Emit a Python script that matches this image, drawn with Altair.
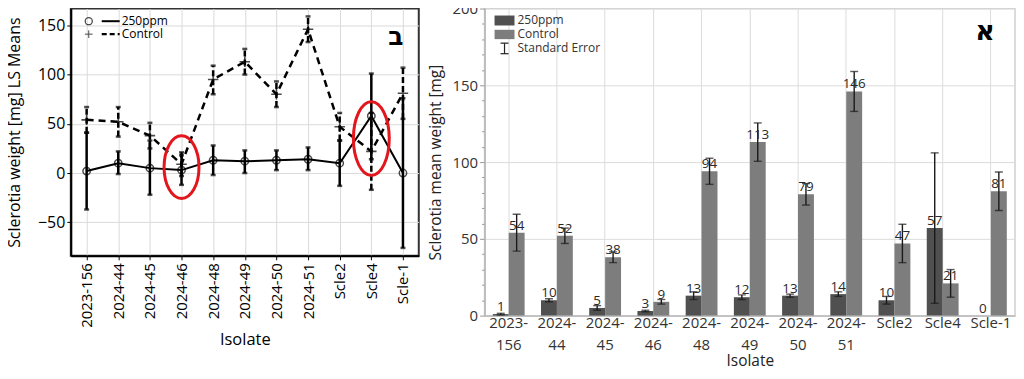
import altair as alt
import pandas as pd

# ---------------- data ----------------
isolates = ["2023-156", "2024-44", "2024-45", "2024-46", "2024-48", "2024-49",
            "2024-50", "2024-51", "Scle2", "Scle4", "Scle-1"]

# Left panel: LS means with confidence bars
ls_250 = [2, 10, 5, 3, 13, 12, 13, 14, 10, 58, 0]
ls_250_lo = [-37, -1, -22, -12, -2, 0, 3, 3, -13, 14, -76]
ls_250_hi = [41, 22, 33, 18, 28, 23, 23, 26, 33, 101, 76]
ls_ctl = [54, 52, 38, 9, 95, 113, 80, 146, 47, 22, 81]
ls_ctl_lo = [41, 37, 25, -3, 80, 100, 67, 133, 33, -17, 55]
ls_ctl_hi = [67, 67, 51, 21, 109, 126, 93, 159, 61, 61, 107]

# Right panel: means and standard errors
mean_250 = [1, 10, 5, 3, 13, 12, 13, 14, 10, 57, 0]
se_250 = [0.5, 1, 1.5, 0.5, 2.5, 1.5, 1, 1.5, 2.5, 49, 0]
mean_ctl = [54, 52, 38, 9, 94, 113, 79, 146, 47, 21, 81]
se_ctl = [12, 5, 3.5, 1.5, 8.5, 12.5, 7, 13, 12.5, 9, 12.5]

treatments = ["250ppm", "Control"]
bar_colors = ["#505050", "#7d7d7d"]

# red highlight ellipses (left panel)
highlight_isolates = ["2024-46", "Scle4"]
highlight_centers = [6, 35]

left_letter = "ב"
right_letter = "א"
se_label = "Standard Error"

FONT = "Open Sans"

# ---------------- left panel ----------------
df250 = pd.DataFrame({"isolate": isolates, "value": ls_250, "lo": ls_250_lo, "hi": ls_250_hi})
dfctl = pd.DataFrame({"isolate": isolates, "value": ls_ctl, "lo": ls_ctl_lo, "hi": ls_ctl_hi})
one = pd.DataFrame({"_": [0]})

xL = alt.X("isolate:N", sort=isolates,
           scale=alt.Scale(type="point", padding=0.5),
           axis=alt.Axis(title="Isolate", labelAngle=-90, labelFontSize=15, labelColor="#000",
                         titleFontSize=16.5, titleFontWeight="normal", titleColor="#000",
                         titlePadding=4, domainColor="#000", domainWidth=2, tickColor="#000",
                         tickSize=4, grid=True, gridColor="#dadada", labelPadding=3))
ySc = alt.Scale(domain=[-84, 167], nice=False, zero=False)
yAx = alt.Axis(title="Sclerotia weight [mg] LS Means", values=[-50, 0, 50, 100, 150],
               labelFontSize=16, labelColor="#000", titleFontSize=16, titleFontWeight="normal",
               titleColor="#000", domainColor="#000", domainWidth=2, tickColor="#000", tickSize=4,
               grid=True, gridColor="#dadada", titlePadding=15)

def yL(field):
    return alt.Y(field, type="quantitative", scale=ySc, axis=yAx)

base250 = alt.Chart(df250)
basectl = alt.Chart(dfctl)

line250 = base250.mark_line(color="#000", strokeWidth=2).encode(x=xL, y=yL("value"))
linectl = basectl.mark_line(color="#000", strokeWidth=2.5, strokeDash=[7, 5]).encode(x=xL, y=yL("value"))

err250 = base250.mark_rule(color="#000", strokeWidth=2.5).encode(x=xL, y=yL("lo"), y2="hi")
errctl = basectl.mark_rule(color="#000", strokeWidth=2.5, strokeDash=[6, 3]).encode(x=xL, y=yL("lo"), y2="hi")
cap250a = base250.mark_tick(color="#000", size=5, thickness=2.5).encode(x=xL, y=yL("lo"))
cap250b = base250.mark_tick(color="#000", size=5, thickness=2.5).encode(x=xL, y=yL("hi"))
capctla = basectl.mark_tick(color="#000", size=5, thickness=2.5).encode(x=xL, y=yL("lo"))
capctlb = basectl.mark_tick(color="#000", size=5, thickness=2.5).encode(x=xL, y=yL("hi"))

pts250 = base250.mark_point(shape="circle", filled=False, size=55, color="#000",
                            strokeWidth=1.5).encode(x=xL, y=yL("value"))
plus_path = "M-1,0L1,0M0,-1L0,1"
ptsctl = basectl.mark_point(shape=plus_path, size=110, color="#000",
                            strokeWidth=1.6).encode(x=xL, y=yL("value"))

hl = pd.DataFrame({"isolate": highlight_isolates, "center": highlight_centers})
def ellipse_path(a):
    return f"M0,-1 A{a},1 0 1,1 0,1 A{a},1 0 1,1 0,-1 Z"
ell1 = alt.Chart(hl).transform_filter(alt.datum.isolate == highlight_isolates[0]).mark_point(
    shape=ellipse_path(0.556), size=3969, color="#e3161d", strokeWidth=3, filled=False, opacity=1
).encode(x=xL, y=yL("center"))
ell2 = alt.Chart(hl).transform_filter(alt.datum.isolate == highlight_isolates[1]).mark_point(
    shape=ellipse_path(0.486), size=5476, color="#e3161d", strokeWidth=3, filled=False, opacity=1
).encode(x=xL, y=yL("center"))

# manual legend (left)
lg_c = alt.Chart(one).mark_point(shape="circle", filled=False, size=50, color="#000", strokeWidth=1.3).encode(
    x=alt.value(18), y=alt.value(12.7))
lg_l1 = alt.Chart(one).mark_rule(color="#000", strokeWidth=2).encode(
    x=alt.value(31), x2=alt.value(49), y=alt.value(12.7))
lg_t1 = alt.Chart(one).mark_text(text=treatments[0], align="left", baseline="middle", fontSize=12,
                                 font=FONT, color="#000").encode(x=alt.value(51), y=alt.value(12.7))
lg_p = alt.Chart(one).mark_point(shape=plus_path, size=60, color="#000", strokeWidth=1).encode(
    x=alt.value(18), y=alt.value(25.7))
lg_l2 = alt.Chart(one).mark_rule(color="#000", strokeWidth=2.2, strokeDash=[5, 3]).encode(
    x=alt.value(31), x2=alt.value(49), y=alt.value(25.7))
lg_t2 = alt.Chart(one).mark_text(text=treatments[1], align="left", baseline="middle", fontSize=12,
                                 font=FONT, color="#000").encode(x=alt.value(51), y=alt.value(25.7))
let_b = alt.Chart(one).mark_text(text=left_letter, font="DejaVu Sans", fontSize=25, fontWeight="bold",
                                 color="#000", align="center", baseline="middle").encode(
    x=alt.value(326), y=alt.value(29))

left = alt.layer(
    err250, errctl, cap250a, cap250b, capctla, capctlb,
    linectl, line250, ptsctl, pts250, ell1, ell2,
    lg_c, lg_l1, lg_t1, lg_p, lg_l2, lg_t2, let_b
).properties(width=349, height=248,
             view=alt.ViewBackground(stroke="#333", strokeWidth=2))

# ---------------- right panel ----------------
rdf = pd.DataFrame({
    "isolate": isolates * 2,
    "treatment": [treatments[0]] * len(isolates) + [treatments[1]] * len(isolates),
    "mean": mean_250 + mean_ctl,
    "se": se_250 + se_ctl,
})

label_expr = ("indexof(datum.label, '20') === 0 ? "
              "[slice(datum.label, 0, 5), slice(datum.label, 5)] : datum.label")
xR = alt.X("isolate:N", sort=isolates,
           scale=alt.Scale(paddingInner=0.34, paddingOuter=0.17),
           axis=alt.Axis(title="Isolate", labelAngle=0, bandPosition=0.5, labelExpr=label_expr,
                         labelLineHeight=22, labelFontSize=15, labelColor="#333", labelPadding=0,
                         titleFontSize=15.5, titleFontWeight="normal", titleColor="#222",
                         titlePadding=1, domainColor="#b5b5b5", domainWidth=1.5, ticks=False,
                         grid=True, gridColor="#dcdcdc"))
xO = alt.XOffset("treatment:N", sort=treatments, scale=alt.Scale(paddingInner=0, paddingOuter=0))
yRsc = alt.Scale(domain=[0, 200], nice=False)
yRax = alt.Axis(title="Sclerotia mean weight [mg]", values=list(range(0, 201, 10)),
                labelExpr="datum.value % 50 === 0 ? datum.label : ''",
                labelFontSize=15, labelColor="#333", titleFontSize=15.5, titleFontWeight="normal",
                titleColor="#222", titlePadding=8, domainColor="#b5b5b5", domainWidth=1.5,
                tickColor="#999",
                tickSize={"condition": {"test": "datum.value % 50 === 0", "value": 5}, "value": 3},
                gridColor="#dcdcdc",
                gridOpacity={"condition": {"test": "datum.value % 50 === 0", "value": 1}, "value": 0})
def yR(field):
    return alt.Y(field, type="quantitative", scale=yRsc, axis=yRax)

rbase = alt.Chart(rdf).transform_calculate(lo="datum.mean - datum.se", hi="datum.mean + datum.se")

bars = rbase.mark_bar().encode(
    x=xR, xOffset=xO, y=yR("mean"),
    color=alt.Color("treatment:N", scale=alt.Scale(domain=treatments, range=bar_colors), legend=None))
rerr_base = rbase.transform_filter("datum.se > 0")
rerr = rerr_base.mark_rule(color="#1a1a1a", strokeWidth=1.4).encode(x=xR, xOffset=xO, y=yR("lo:Q"), y2="hi:Q")
rcap1 = rerr_base.mark_tick(color="#1a1a1a", size=8, thickness=1.4).encode(x=xR, xOffset=xO, y=yR("lo:Q"))
rcap2 = rerr_base.mark_tick(color="#1a1a1a", size=8, thickness=1.4).encode(x=xR, xOffset=xO, y=yR("hi:Q"))
vals = rbase.mark_text(dy=-7, fontSize=13.5, color="#2a2a2a", font=FONT, baseline="middle").encode(
    x=xR, xOffset=xO, y=yR("mean"), text=alt.Text("mean:Q", format="d"))

# manual legend (right)
rl1 = alt.Chart(one).mark_rect(color=bar_colors[0]).encode(
    x=alt.value(10), x2=alt.value(30), y=alt.value(7), y2=alt.value(17))
rl2 = alt.Chart(one).mark_rect(color=bar_colors[1]).encode(
    x=alt.value(10), x2=alt.value(30), y=alt.value(21.3), y2=alt.value(30.7))
rl3 = alt.Chart(one).mark_rule(color="#222", strokeWidth=1.2).encode(
    x=alt.value(20), y=alt.value(34.7), y2=alt.value(45.3))
rl3a = alt.Chart(one).mark_rule(color="#222", strokeWidth=1.2).encode(
    x=alt.value(16), x2=alt.value(24), y=alt.value(34.7))
rl3b = alt.Chart(one).mark_rule(color="#222", strokeWidth=1.2).encode(
    x=alt.value(16), x2=alt.value(24), y=alt.value(45.3))
rt1 = alt.Chart(one).mark_text(text=treatments[0], align="left", baseline="middle", fontSize=12,
                               font=FONT, color="#333").encode(x=alt.value(33), y=alt.value(12))
rt2 = alt.Chart(one).mark_text(text=treatments[1], align="left", baseline="middle", fontSize=12,
                               font=FONT, color="#333").encode(x=alt.value(33), y=alt.value(26))
rt3 = alt.Chart(one).mark_text(text=se_label, align="left", baseline="middle", fontSize=12,
                               font=FONT, color="#333").encode(x=alt.value(33), y=alt.value(40))
let_a = alt.Chart(one).mark_text(text=right_letter, font="DejaVu Sans", fontSize=27, fontWeight="bold",
                                 color="#000", align="center", baseline="middle").encode(
    x=alt.value(502), y=alt.value(24))

right = alt.layer(
    bars, rerr, rcap1, rcap2, vals, rl1, rl2, rl3, rl3a, rl3b, rt1, rt2, rt3, let_a
).properties(width=532, height=308,
             view=alt.ViewBackground(stroke="#cfcfcf", strokeWidth=1.5))

chart = alt.hconcat(left, right, spacing=66, bounds="flush").properties(
    padding={"left": -3, "top": -8, "right": 0, "bottom": 0}
).configure(font=FONT).configure_axis(labelFont=FONT, titleFont=FONT)

chart.save("out.html", embed_options={"renderer": "svg", "actions": False})
